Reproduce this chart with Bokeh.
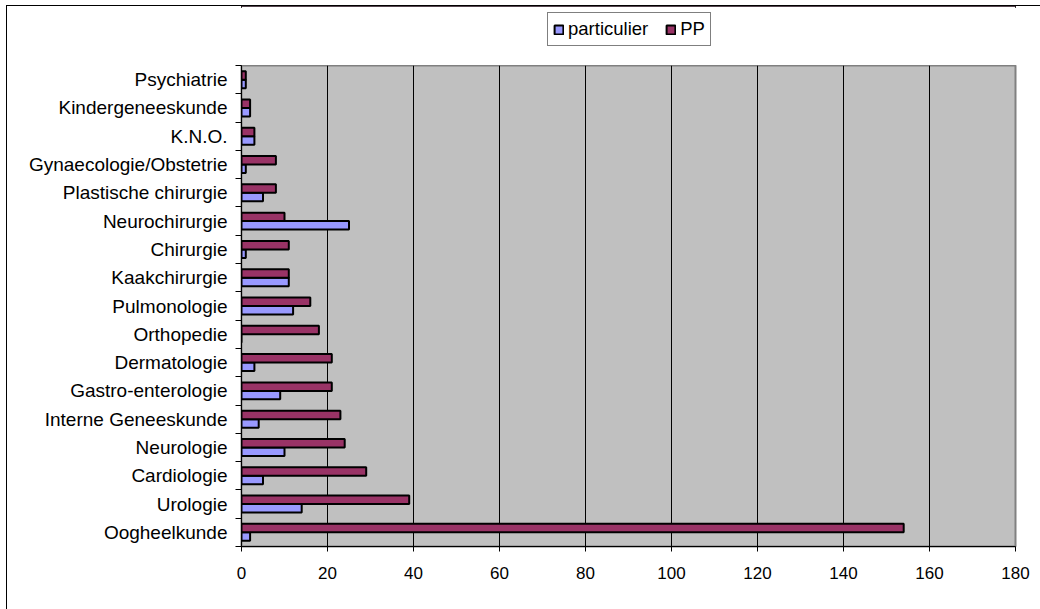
from bokeh.plotting import figure
from bokeh.layouts import column
from bokeh.models import (ColumnDataSource, Range1d, FixedTicker, Legend, LegendItem,
                          BoxAnnotation)
from bokeh.embed import file_html
from bokeh.resources import INLINE
import numpy as np

# Categories listed bottom to top (as drawn)
categories = ["Oogheelkunde", "Urologie", "Cardiologie", "Neurologie",
              "Interne Geneeskunde", "Gastro-enterologie", "Dermatologie",
              "Orthopedie", "Pulmonologie", "Kaakchirurgie", "Chirurgie",
              "Neurochirurgie", "Plastische chirurgie", "Gynaecologie/Obstetrie",
              "K.N.O.", "Kindergeneeskunde", "Psychiatrie"]
particulier = [2, 14, 5, 10, 4, 9, 3, 0, 12, 11, 1, 25, 5, 1, 3, 2, 1]
pp = [154, 39, 29, 24, 23, 21, 21, 18, 16, 11, 11, 10, 8, 8, 3, 2, 1]
x_ticks = [0, 20, 40, 60, 80, 100, 120, 140, 160, 180]
series_names = ["particulier", "PP"]
series_colors = ["#9999FF", "#993366"]

n = len(categories)
centers = np.arange(n) + 0.5
bounds = list(np.arange(n + 1).astype(float))

src = ColumnDataSource(dict(
    cat=categories,
    y_pp=centers + 0.15,
    y_part=centers - 0.15,
    pp=pp,
    part=particulier,
))
series_cols = [("y_part", "part"), ("y_pp", "pp")]

FONT = "Liberation Sans"

# ---------------- main chart ----------------
p = figure(width=1033, height=544, output_backend="svg", toolbar_location=None,
           x_range=Range1d(0, 180), y_range=Range1d(0, n),
           min_border_left=234, min_border_right=25, min_border_top=0,
           min_border_bottom=63)

p.border_fill_color = "white"
p.background_fill_color = "#C0C0C0"
p.outline_line_color = "#808080"
p.outline_line_width = 2

for (ycol, xcol), color in zip(series_cols, series_colors):
    p.hbar(y=ycol, right=xcol, left=0, height=0.3, source=src,
           fill_color=color, line_color="black", line_width=2)

# X axis
p.xaxis.ticker = FixedTicker(ticks=x_ticks)
p.xaxis.major_tick_out = 5
p.xaxis.major_tick_in = 0
p.xaxis.minor_tick_out = 0
p.xaxis.minor_tick_in = 0
p.xaxis.axis_line_color = "black"
p.xaxis.major_tick_line_color = "black"
p.xaxis.major_label_text_font = FONT
p.xaxis.major_label_text_font_size = "17px"
p.xaxis.major_label_text_color = "black"
p.xaxis.major_label_standoff = 15

# Y axis: labels at centers, ticks at category boundaries
p.yaxis.ticker = FixedTicker(ticks=list(centers), minor_ticks=bounds)
p.yaxis.major_label_overrides = {float(c): name for c, name in zip(centers, categories)}
p.yaxis.major_tick_out = 0
p.yaxis.major_tick_in = 0
p.yaxis.minor_tick_out = 6
p.yaxis.minor_tick_in = 0
p.yaxis.minor_tick_line_color = "black"
p.yaxis.axis_line_color = "black"
p.yaxis.major_label_text_font = FONT
p.yaxis.major_label_text_font_size = "19px"
p.yaxis.major_label_text_color = "black"
p.yaxis.major_label_standoff = 8

# Grid
p.xgrid.ticker = FixedTicker(ticks=x_ticks)
p.xgrid.grid_line_color = "black"
p.xgrid.grid_line_width = 1
p.ygrid.grid_line_color = None

# ---------------- legend strip above the chart ----------------
# Same series drawn out of view and masked, so only the legend shows.
lg = figure(width=1033, height=59, output_backend="svg", toolbar_location=None,
            x_range=Range1d(0, 1), y_range=Range1d(-10, -9),
            x_axis_type=None, y_axis_type=None,
            min_border_left=0, min_border_right=0, min_border_top=0,
            min_border_bottom=0)
lg.outline_line_color = None
lg.background_fill_color = "white"
lg.border_fill_color = "white"
lg.grid.visible = False

items = []
for name, (ycol, xcol), color in zip(series_names, series_cols, series_colors):
    r = lg.hbar(y=ycol, right=xcol, left=0, height=0.3, source=src,
                fill_color=color, line_color="black", line_width=2)
    items.append(LegendItem(label=name, renderers=[r]))

# white mask over the strip's frame
lg.add_layout(BoxAnnotation(fill_color="white", fill_alpha=1.0, line_color=None,
                            line_alpha=0))

legend = Legend(items=items,
                location=(306, 19), orientation="horizontal",
                glyph_width=11, glyph_height=11, label_standoff=4,
                padding=5, spacing=17, margin=0,
                label_text_font=FONT, label_text_font_size="18.5px",
                label_text_color="black",
                border_line_color="black", border_line_width=1,
                background_fill_color="white", background_fill_alpha=1)
lg.add_layout(legend, "center")

layout = column(lg, p, spacing=0)
layout.styles = {"margin-left": "6px", "margin-top": "5px",
                 "border-left": "1px solid black", "border-top": "1px solid black"}

open("out.html", "w").write(file_html(layout, INLINE))
